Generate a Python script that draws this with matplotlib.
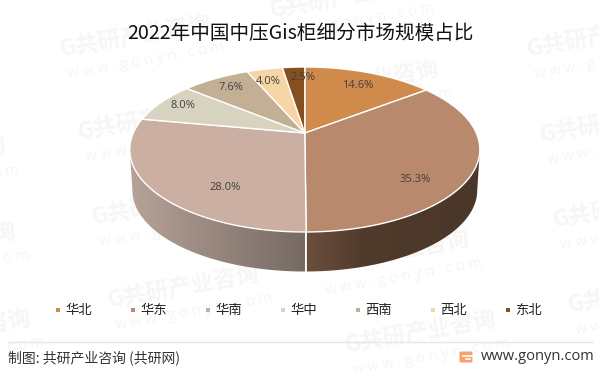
import numpy as np
import matplotlib
matplotlib.use("Agg")
import matplotlib.pyplot as plt
from matplotlib.colors import LinearSegmentedColormap
from matplotlib.patches import Polygon, Rectangle, FancyBboxPatch

CJK = ['Noto Sans CJK SC', 'DejaVu Sans']
plt.rcParams['font.family'] = CJK

# ---- data ----
title = "2022年中国中压Gis柜细分市场规模占比"
regions = ["华北", "华东", "华南", "华中", "西南", "西北", "东北"]
shares = [14.6, 35.3, 28.0, 8.0, 7.6, 4.0, 2.5]
colors = ["#d08a4c", "#b8896c", "#ccafa3", "#d8d3c0", "#c3b094", "#f5d6a4", "#85501f"]
source = "制图: 共研产业咨询 (共研网)"
site = "www.gonyn.com"

# ---- layout (pixels) ----
label_xy = [(358, 85), (415, 179), (225, 188), (183, 105), (231, 88), (268, 82), (303, 78)]
legend_x = [58, 133, 208, 283, 358, 433, 508]
wm_starts = [(60, 50), (78, 133), (92, 218), (108, 301),
             (288, 96), (302, 181), (318, 266), (345, 346),
             (527, 50), (540, 136), (553, 221), (568, 306),
             (-165, 90), (-145, 173), (-135, 258), (-120, 345), (270, 11)]
CX, CY, BX, AY, K = 304.8, 133.0, 171.5, 79.2, 0.2
DEPTH, SHRINK = 41.0, 0.985

fig = plt.figure(figsize=(5.99, 3.72), dpi=100)
ax = fig.add_axes([0, 0, 1, 1])
ax.set_axis_off()


def rim(deg, scale=1.0, dy=0.0):
    a = np.radians(deg)
    w = 1 + K * np.sin(a)
    return CX + scale * BX * np.cos(a) / w, CY + dy - scale * AY * np.sin(a) / w


# watermark
for x, y in wm_starts:
    ax.text(x, y, "G共研产业咨询", fontsize=16.5, fontweight='bold', color="#f6f6f6",
            rotation=10, rotation_mode='anchor', ha='left', va='center', zorder=1)
    ax.text(x + 8, y + 25, "w w w . g o n y n . c o m", fontsize=10.5, color="#f5f5f5",
            rotation=10, rotation_mode='anchor', ha='left', va='center', zorder=1,
            family='Open Sans')

# side wall
cum = np.cumsum([0] + shares)
angles = 90 - cum * 3.6


def side(a_from, a_to, stops, x0, x1):
    t = np.linspace(a_from, a_to, 120)
    xt, yt = rim(t)
    xb, yb = rim(t, SHRINK, DEPTH)
    poly = Polygon(np.r_[np.c_[xt, yt], np.c_[xb, yb][::-1]], closed=True,
                   transform=ax.transData, fc='none', ec='none')
    ax.add_patch(poly)
    cmap = LinearSegmentedColormap.from_list("s", stops)
    im = ax.imshow(np.linspace(0, 1, 256)[None, :], cmap=cmap, aspect='auto',
                   extent=(x0, x1, 280, 140), zorder=2, interpolation='bilinear')
    im.set_clip_path(poly)


side(-12, angles[2], [(0, "#6c4f3d"), (0.35, "#4f3a2b"), (1, "#4a3729")], 305, 480)
side(angles[2], -168.5, [(0, "#b7a399"), (1, "#766a63")], 128, 305)

xs, ys = rim(angles[2])
ax.plot([xs, xs], [ys, ys + DEPTH], color='white', lw=1.2, zorder=3)

# top face
for i, (v, c) in enumerate(zip(shares, colors)):
    t = np.linspace(angles[i], angles[i + 1], 80)
    xr, yr = rim(t)
    ax.fill(np.r_[CX, xr], np.r_[CY, yr], fc=c, ec='white', lw=1.0, zorder=4,
            joinstyle='round')

for (x, y), v in zip(label_xy, shares):
    ax.text(x, y, f"{v:.1f}%", fontsize=8, color="#404040", ha='center', va='center',
            family='Open Sans', zorder=5)

ax.text(300, 33, title, fontsize=14.1, color="#111111", ha='center', va='center', zorder=6)

# legend
for x, r, c in zip(legend_x, regions, colors):
    ax.add_patch(Rectangle((x - 2, 308), 4, 4, fc=c, ec='none', zorder=6))
    ax.text(x + 7, 310, r, fontsize=9.6, color="#222222", ha='left', va='center', zorder=6)

# footer
ax.plot([8, 592], [342, 342], color="#e6e6e6", lw=1, zorder=6)
ax.text(8, 358, source, fontsize=10, color="#333333", ha='left', va='center', zorder=6)
ax.text(481, 357, site, fontsize=10.5, color="#333333", ha='left', va='center',
        family='Open Sans', zorder=6)
ax.add_patch(FancyBboxPatch((460, 352), 12, 10, boxstyle="round,pad=0.5,rounding_size=1.5",
                            fc="#f5a36a", ec='none', zorder=6))
ax.plot([463, 473.5], [355.5, 355.5], color='white', lw=1.2, zorder=7)
ax.plot([466, 470], [358.5, 358.5], color='white', lw=1.2, zorder=7)

ax.set_xlim(0, 599)
ax.set_ylim(372, 0)
fig.savefig("out.png", dpi=100, facecolor='white')
